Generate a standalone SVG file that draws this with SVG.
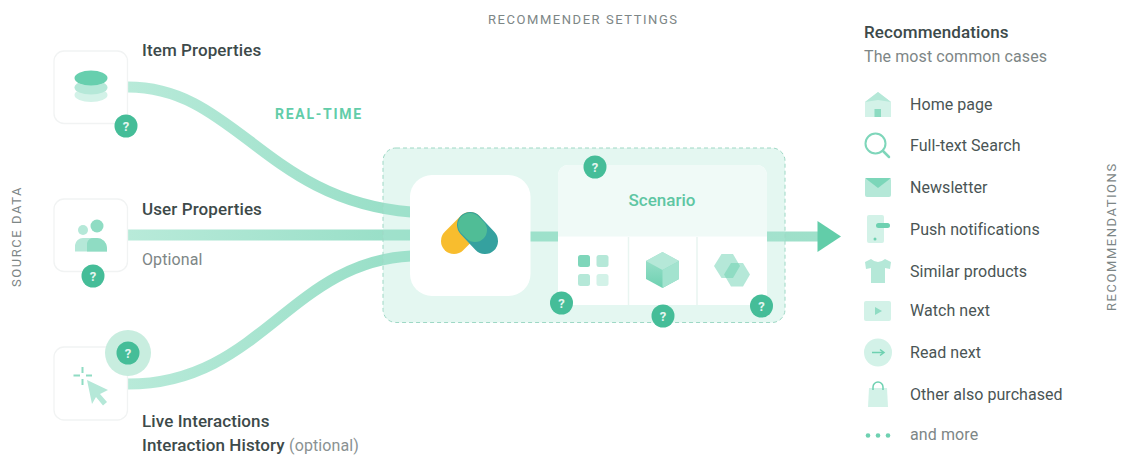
<svg xmlns="http://www.w3.org/2000/svg" width="1123" height="455" viewBox="0 0 1123 455">
<style>
text{font-family:Roboto,"Liberation Sans",sans-serif}
.t{font-size:17px;font-weight:500;letter-spacing:.1px;fill:#3d4a4a}
.g{font-size:16px;letter-spacing:.1px;fill:#7d8686}
.l{font-size:16px;letter-spacing:.05px;fill:#4a5555}
.c{font-size:13px;letter-spacing:1.55px;fill:#7d8686}
.card{fill:#fff;stroke:#f1f3f3;stroke-width:1.3}
.link{fill:none;stroke:url(#flow);stroke-width:11}
.q{fill:#45bd98}
.qt{font-size:13px;font-weight:700;fill:#e4f6f0;text-anchor:middle}
.a{fill:#b5e8d8}.b{fill:#d3f2e8}.d{fill:#6ed1b1}
</style>
<defs>
<linearGradient id="flow" gradientUnits="userSpaceOnUse" x1="128" x2="411" y1="0" y2="0"><stop offset="0" stop-color="#b8ead9"/><stop offset="1" stop-color="#96dec6"/></linearGradient>
<linearGradient id="out" gradientUnits="userSpaceOnUse" x1="528" x2="820" y1="0" y2="0"><stop offset="0" stop-color="#96dec6"/><stop offset="1" stop-color="#9fe0ca"/></linearGradient>
<linearGradient id="cube" x1="0" x2="0" y1="0" y2="1"><stop offset="0" stop-color="#a3e3cf"/><stop offset="1" stop-color="#6ed1b1"/></linearGradient>
<clipPath id="hexclip"><path d="M721.500 254H733L740 266L733 278H721.500L714 266Z"/></clipPath>
<g id="qm"><circle r="11.5" class="q"/><text y="4.6" class="qt">?</text></g>
</defs>

<g id="connectors">
<path class="link" d="M128 87C235 87 265 200 411 212"/>
<path class="link" d="M128 235H411"/>
<path class="link" d="M128 384C260 384 290 262 411 256"/>
<path fill="none" stroke="url(#out)" stroke-width="10" d="M528 236.500H560"/>
<path fill="none" stroke="url(#out)" stroke-width="10" d="M765 236.500H820"/>
<path d="M817.500 221L841 236.500L817.500 252Z" fill="#62cda9"/>
</g>

<g id="panel"><rect x="383" y="148" width="402" height="174.500" rx="13" fill="#aee6d3" fill-opacity=".33" stroke="#9ed8c5" stroke-dasharray="4 3"/></g>

<g id="engine">
<rect x="410" y="175" width="120.500" height="121" rx="22" fill="#fff"/>
<path d="M470 225L454 241" stroke="#f8bd2e" stroke-width="26" stroke-linecap="round"/>
<path d="M470 225L485 241" stroke="#35a19f" stroke-width="26" stroke-linecap="round"/>
<path d="M470 225L475 230" stroke="#50bd96" stroke-width="24" stroke-linecap="round"/>
</g>

<g id="scenario">
<rect x="558" y="165" width="209" height="140" rx="10" fill="#fff"/>
<path d="M558 236.500V175a10 10 0 0 1 10-10H757a10 10 0 0 1 10 10V236.500Z" fill="#f0faf7"/>
<path d="M628.500 237V305M697 237V305" stroke="#e9f5f1" stroke-width="1.500"/>
<text x="662" y="206" font-size="17" font-weight="500" text-anchor="middle" fill="#5ec6a3">Scenario</text>
<rect x="578" y="255" width="12" height="12" rx="2.500" fill="#7ed6ba"/>
<rect x="596.500" y="255" width="12" height="12" rx="2.500" class="a"/>
<rect x="578" y="274" width="12" height="12" rx="2.500" class="a"/>
<rect x="596.500" y="274" width="12" height="12" rx="2.500" class="b"/>
<path d="M662.500 252L679 261V279L662.500 288L646 279V261Z" fill="url(#cube)"/>
<path d="M662.500 252L679 261L662.500 270L646 261Z" fill="#b5e8d8"/>
<path d="M662.500 270L679 261V279L662.500 288Z" fill="#a3e3cf"/>
<path d="M721.500 254H733L740 266L733 278H721.500L714 266Z" class="a"/>
<path d="M731 263H743L750 274.500L743 286.500H731L724 274.500Z" class="a"/>
<path d="M731 263H743L750 274.500L743 286.500H731L724 274.500Z" fill="#8fdcc3" clip-path="url(#hexclip)"/>
</g>

<g id="item-properties">
<rect class="card" x="54" y="51" width="73.500" height="72.500" rx="10"/>
<ellipse cx="91" cy="95" rx="16.500" ry="7" class="b"/>
<ellipse cx="91" cy="87.500" rx="16.500" ry="7" class="a"/>
<ellipse cx="91" cy="78" rx="16.500" ry="7.500" fill="#67cfae"/>
<text class="t" x="142" y="56">Item Properties</text>
<use href="#qm" x="126" y="126"/>
</g>

<g id="user-properties">
<rect class="card" x="54" y="199" width="73.500" height="72.500" rx="10"/>
<circle cx="83" cy="230" r="5" class="a"/>
<circle cx="97" cy="226" r="6.500" fill="#8fdcc3"/>
<path d="M75 251.500V245a8 8 0 0 1 8-7H97a10 10 0 0 1 10 10V251.500Z" class="a"/>
<path d="M87 251.500V243a7 7 0 0 1 7-5H97a10 10 0 0 1 10 10V251.500Z" fill="#8fdcc3"/>
<text class="t" x="142" y="215">User Properties</text>
<text class="g" x="142" y="265">Optional</text>
<use href="#qm" x="93" y="276"/>
</g>

<g id="live-interactions">
<rect class="card" x="54" y="347" width="73.500" height="73" rx="10"/>
<path d="M82.500 367V373M82.500 379V385M73.500 375.500H80M86 375.500H92" stroke="#8fdcc3" stroke-width="2"/>
<path d="M87 380L108 390L100 394L107 402L103 405.500L96 397L92 404Z" class="a"/>
<circle cx="128" cy="353" r="23" fill="#c8eddf"/>
<use href="#qm" x="128" y="353"/>
<text class="t" x="142" y="427">Live Interactions</text>
<text class="t" x="142" y="451">Interaction History <tspan fill="#8a9292" font-weight="400" font-size="16">(optional)</tspan></text>
</g>

<g id="badges">
<use href="#qm" x="595" y="167"/>
<use href="#qm" x="561.500" y="303"/>
<use href="#qm" x="663" y="316"/>
<use href="#qm" x="761.500" y="306"/>
</g>

<g id="labels">
<text x="275" y="119" font-size="14" font-weight="700" letter-spacing="1.750" fill="#62cda9">REAL-TIME</text>
<text class="c" x="488" y="24">RECOMMENDER SETTINGS</text>
<text class="c" transform="translate(21 287) rotate(-90)">SOURCE DATA</text>
<text class="c" transform="translate(1116 311) rotate(-90)">RECOMMENDATIONS</text>
</g>

<g id="recommendations">
<text class="t" x="864" y="38">Recommendations</text>
<text class="g" x="864" y="62">The most common cases</text>
<g id="rec-home"><path d="M865 102L878 92L891 102V117H865Z" class="b"/><path d="M865 102L878 92L891 102L878 100Z" class="a"/><rect x="874.500" y="109" width="6.500" height="8" class="d" opacity=".7"/><text class="l" x="910" y="110">Home page</text></g>
<g id="rec-search"><circle cx="875.500" cy="143.500" r="10" fill="none" stroke="#7ed6ba" stroke-width="2"/><path d="M883 151L889 157" stroke="#7ed6ba" stroke-width="2.500" stroke-linecap="round"/><text class="l" x="910" y="151">Full-text Search</text></g>
<g id="rec-newsletter"><rect x="865" y="178" width="26" height="19" rx="2" class="a"/><path d="M865 178H891L878 188Z" class="d" opacity=".8"/><text class="l" x="910" y="193">Newsletter</text></g>
<g id="rec-push"><rect x="867" y="215" width="17" height="28" rx="2" class="b"/><rect x="876" y="223" width="14" height="5" rx="2.500" class="d"/><circle cx="875" cy="239" r="1.500" class="d"/><text class="l" x="910" y="235">Push notifications</text></g>
<g id="rec-similar"><path d="M871 259L865 262L866 269L871 268V283H885V268L890 269L891 262L885 259Q878 265 871 259Z" class="a"/><text class="l" x="910" y="277">Similar products</text></g>
<g id="rec-watch"><rect x="864" y="301" width="27" height="20" rx="2" class="b"/><path d="M875 307L882 311L875 315Z" fill="#8fdcc3"/><text class="l" x="910" y="316">Watch next</text></g>
<g id="rec-read"><circle cx="878" cy="352.500" r="14" class="b"/><path d="M872 352.500H883M880 349.500L884 352.500L880 355.500" fill="none" stroke="#6ed1b1" stroke-width="1.500"/><text class="l" x="910" y="358">Read next</text></g>
<g id="rec-other"><path d="M869 388H887L888 407H868Z" class="b"/><path d="M873 390V387a5 5 0 0 1 10 0V390" fill="none" stroke="#6ed1b1" stroke-width="1.500"/><text class="l" x="910" y="400">Other also purchased</text></g>
<g id="rec-more"><circle cx="868" cy="435.500" r="2.300" class="d"/><circle cx="878" cy="435.500" r="2.300" class="d"/><circle cx="888" cy="435.500" r="2.300" class="d"/><text class="g" x="910" y="440">and more</text></g>
</g>
</svg>
